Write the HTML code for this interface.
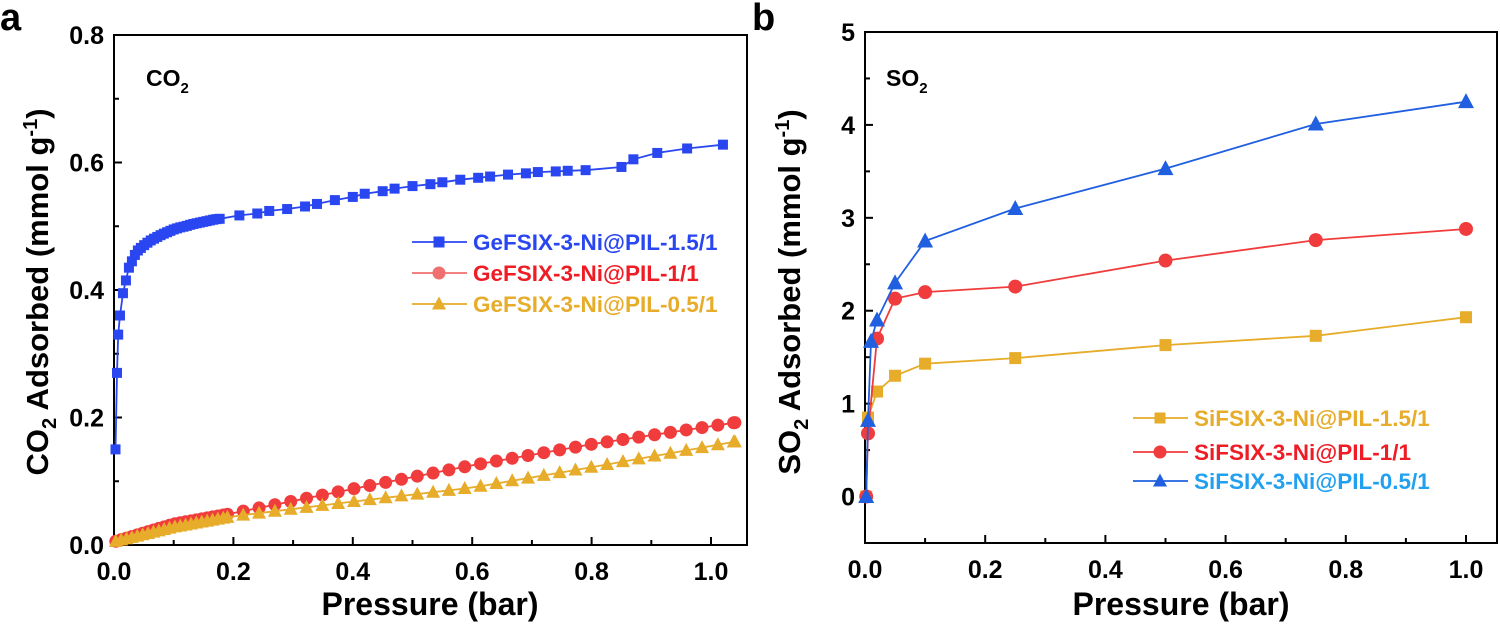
<!DOCTYPE html>
<html><head><meta charset="utf-8"><style>
html,body{margin:0;padding:0;background:#fff;}
svg{display:block;font-family:"Liberation Sans",Arial,sans-serif;font-weight:bold;}
</style></head><body>
<svg id="s" width="1500" height="629" viewBox="0 0 1500 629" xmlns="http://www.w3.org/2000/svg">
<text x="0" y="30" font-size="38">a</text>
<text x="752" y="30" font-size="38">b</text>
<text x="146" y="86" font-size="23">CO<tspan font-size="15" dy="7">2</tspan></text>
<text x="886" y="86" font-size="23">SO<tspan font-size="15" dy="7">2</tspan></text>
<text x="430" y="615" font-size="32" text-anchor="middle">Pressure (bar)</text>
<text x="1181" y="615" font-size="32" text-anchor="middle">Pressure (bar)</text>
<text transform="translate(48,292) rotate(-90)" font-size="31" text-anchor="middle">CO<tspan font-size="20" dy="8">2</tspan><tspan dy="-8"> Adsorbed (mmol g</tspan><tspan font-size="20" dy="-11">-1</tspan><tspan dy="11">)</tspan></text>
<text transform="translate(800,292) rotate(-90)" font-size="31" text-anchor="middle">SO<tspan font-size="20" dy="8">2</tspan><tspan dy="-8"> Adsorbed (mmol g</tspan><tspan font-size="20" dy="-11">-1</tspan><tspan dy="11">)</tspan></text>
<g id="g"></g>
</svg>
<script>
var NS="http://www.w3.org/2000/svg",G=document.getElementById('g');
function el(t,a,txt){var e=document.createElementNS(NS,t);for(var k in a)e.setAttribute(k,a[k]);if(txt!=null)e.textContent=txt;G.appendChild(e);return e;}
function interp(A,x){for(var i=1;i<A.length;i++){if(x<=A[i][0]){var a=A[i-1],b=A[i];return a[1]+(b[1]-a[1])*(x-a[0])/(b[0]-a[0]);}}return A[A.length-1][1];}
function marker(type,x,y,c,s){
 if(type=='s')el('rect',{x:x-s,y:y-s,width:2*s,height:2*s,fill:c});
 else if(type=='c')el('circle',{cx:x,cy:y,r:s+1,fill:c});
 else el('polygon',{points:(x)+','+(y-s-2)+' '+(x-s-1.5)+','+(y+s)+' '+(x+s+1.5)+','+(y+s),fill:c});
}
function series(P,X,Y,c,type,s){
 var d=P.map(function(p){return X(p[0]).toFixed(1)+','+Y(p[1]).toFixed(1)}).join(' ');
 el('polyline',{points:d,fill:'none',stroke:c,'stroke-width':1.8});
 P.forEach(function(p){marker(type,X(p[0]),Y(p[1]),c,s)});
}
function axes(L,T,R,B,X,Y,xt,yt,ym,xl,yl){
 el('rect',{x:L,y:T,width:R-L,height:B-T,fill:'none',stroke:'#000','stroke-width':2});
 xt.forEach(function(v,i){var x=X(v);el('line',{x1:x,y1:B,x2:x,y2:B-8,stroke:'#000','stroke-width':2});el('text',{x:x,y:B+35,'font-size':25,'text-anchor':'middle'},xl[i]);});
 xt.slice(0,-1).forEach(function(v){var x=X(v+0.1);el('line',{x1:x,y1:B,x2:x,y2:B-5,stroke:'#000','stroke-width':2});});
 yt.forEach(function(v,i){var y=Y(v);el('line',{x1:L,y1:y,x2:L+8,y2:y,stroke:'#000','stroke-width':2});el('text',{x:L-10,y:y+9,'font-size':25,'text-anchor':'end'},yl[i]);});
 ym.forEach(function(v){var y=Y(v);el('line',{x1:L,y1:y,x2:L+5,y2:y,stroke:'#000','stroke-width':2});});
}
var aL=114,aT=35,aR=747,aB=545;
var aX=function(v){return aL+v*597},aY=function(v){return aB-v/0.8*(aB-aT)};
axes(aL,aT,aR,aB,aX,aY,[0,0.2,0.4,0.6,0.8,1.0],[0,0.2,0.4,0.6,0.8],[0.1,0.3,0.5,0.7],['0.0','0.2','0.4','0.6','0.8','1.0'],['0.0','0.2','0.4','0.6','0.8']);
var blueA=[[0.0025,0.15],[0.005,0.27],[0.007,0.33],[0.01,0.36],[0.015,0.395],[0.02,0.415],[0.025,0.435],[0.03,0.445],[0.035,0.455],[0.04,0.462]];
var dense=[[0.04,0.462],[0.05,0.47],[0.06,0.477],[0.07,0.482],[0.08,0.487],[0.09,0.491],[0.1,0.495],[0.11,0.498],[0.12,0.5],[0.13,0.503],[0.14,0.505],[0.15,0.507],[0.16,0.509],[0.17,0.511],[0.18,0.512]];
for(var x=0.045;x<=0.1805;x+=0.0055)blueA.push([x,interp(dense,x)]);
blueA=blueA.concat([[0.21,0.517],[0.24,0.52],[0.26,0.524],[0.29,0.527],[0.32,0.531],[0.34,0.535],[0.37,0.541],[0.4,0.546],[0.42,0.551],[0.45,0.555],[0.47,0.559],[0.5,0.563],[0.53,0.566],[0.55,0.569],[0.58,0.573],[0.61,0.576],[0.63,0.578],[0.66,0.581],[0.69,0.583],[0.71,0.585],[0.74,0.586],[0.76,0.587],[0.79,0.588],[0.85,0.593],[0.87,0.605],[0.91,0.615],[0.96,0.622],[1.02,0.628]]);
var rA=[[0,0.005],[0.1,0.033],[0.2,0.05],[0.4,0.088],[0.6,0.125],[0.8,0.158],[1.04,0.192]];
var yA=[[0,0.005],[0.1,0.028],[0.2,0.045],[0.4,0.068],[0.6,0.09],[0.8,0.122],[1.04,0.162]];
function gen(A){var P=[];for(var x=0.003;x<0.19;x+=0.009)P.push([x,interp(A,x)]);for(var x=0.19;x<=1.041;x+=0.0265)P.push([x,interp(A,x)]);P.push([1.04,interp(A,1.04)]);return P;}
series(gen(rA),aX,aY,'#f03c3c','c',5.5);
series(gen(yA),aX,aY,'#e6ac2a','t',5.5);
series(blueA,aX,aY,'#2a46f0','s',5);
function leg(x,y,c,tc,type,txt){el('line',{x1:x,y1:y,x2:x+55,y2:y,stroke:c,'stroke-width':1.8});marker(type,x+27,y,c,5.5);el('text',{x:x+61,y:y+8,'font-size':22.5,fill:tc},txt);}
leg(412,242,'#2a46f0','#2a46f0','s','GeFSIX-3-Ni@PIL-1.5/1');
leg(412,273,'#f07070','#ee1c24','c','GeFSIX-3-Ni@PIL-1/1');
leg(412,304,'#e6ac2a','#e6ac2a','t','GeFSIX-3-Ni@PIL-0.5/1');
var bL=865,bT=32,bR=1497,bB=543;
var bX=function(v){return bL+v*601},bY=function(v){return bB-(v+0.5)/5.5*(bB-bT)};
axes(bL,bT,bR,bB,bX,bY,[0,0.2,0.4,0.6,0.8,1.0],[0,1,2,3,4,5],[0.5,1.5,2.5,3.5,4.5],['0.0','0.2','0.4','0.6','0.8','1.0'],['0','1','2','3','4','5']);
series([[0.002,0],[0.005,0.85],[0.02,1.13],[0.05,1.3],[0.1,1.43],[0.25,1.49],[0.5,1.63],[0.75,1.73],[1,1.93]],bX,bY,'#e6ac2a','s',6);
series([[0.002,0],[0.005,0.68],[0.02,1.7],[0.05,2.13],[0.1,2.2],[0.25,2.26],[0.5,2.54],[0.75,2.76],[1,2.88]],bX,bY,'#f03c3c','c',6);
series([[0.002,0],[0.005,0.82],[0.01,1.67],[0.02,1.9],[0.05,2.3],[0.1,2.75],[0.25,3.1],[0.5,3.53],[0.75,4.01],[1,4.25]],bX,bY,'#2060e0','t',6.5);
leg(1133,418,'#e6ac2a','#e6ac2a','s','SiFSIX-3-Ni@PIL-1.5/1');
leg(1133,452,'#f03c3c','#ee1c24','c','SiFSIX-3-Ni@PIL-1/1');
leg(1133,481,'#2060e0','#22a0f0','t','SiFSIX-3-Ni@PIL-0.5/1');
</script>
</body></html>
